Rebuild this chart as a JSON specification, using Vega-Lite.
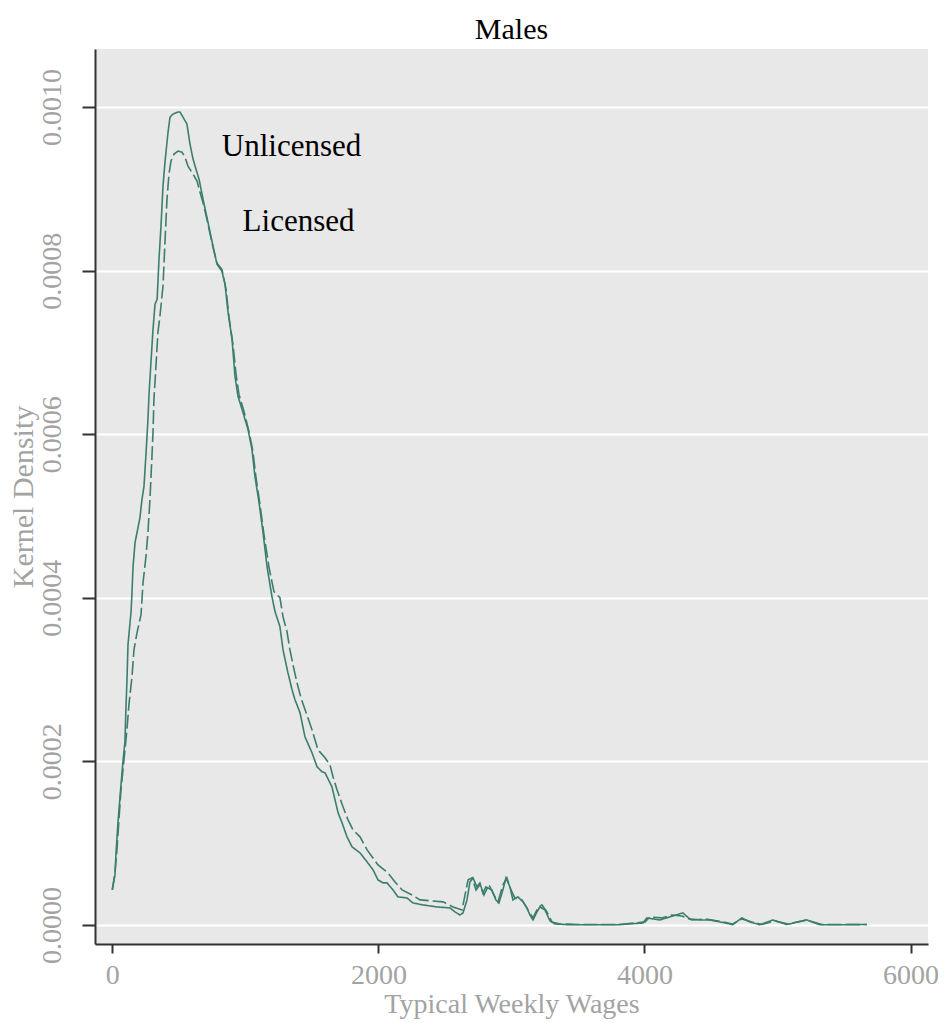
{
  "$schema": "https://vega.github.io/schema/vega-lite/v6.json",
  "width": 833,
  "height": 895,
  "autosize": {"type": "none"},
  "padding": {"left": 95, "top": 49, "right": 19, "bottom": 79},
  "background": "white",
  "title": {
    "text": "Males",
    "font": "Liberation Serif",
    "fontSize": 30,
    "fontWeight": "normal",
    "color": "#000000",
    "anchor": "middle",
    "offset": 4
  },
  "config": {
    "view": {"fill": "#e8e8e8", "stroke": null},
    "axis": {
      "labelFont": "Liberation Serif",
      "titleFont": "Liberation Serif",
      "labelColor": "#a3a3a3",
      "titleColor": "#a3a3a3",
      "labelFontSize": 28,
      "titleFontSize": 28,
      "titleFontWeight": "normal",
      "domainColor": "#333333",
      "domainWidth": 2,
      "tickColor": "#333333",
      "tickWidth": 2,
      "gridColor": "#ffffff",
      "gridWidth": 2
    }
  },
  "datasets": {
    "curves": [
      {"series": "Unlicensed", "wage": 0, "density": 0.0000428},
      {"series": "Unlicensed", "wage": 20, "density": 0.0000612},
      {"series": "Unlicensed", "wage": 28, "density": 0.0000881},
      {"series": "Unlicensed", "wage": 43, "density": 0.0001261},
      {"series": "Unlicensed", "wage": 58, "density": 0.0001567},
      {"series": "Unlicensed", "wage": 80, "density": 0.0001995},
      {"series": "Unlicensed", "wage": 95, "density": 0.000224},
      {"series": "Unlicensed", "wage": 103, "density": 0.0002668},
      {"series": "Unlicensed", "wage": 110, "density": 0.0002974},
      {"series": "Unlicensed", "wage": 118, "density": 0.0003427},
      {"series": "Unlicensed", "wage": 141, "density": 0.0003831},
      {"series": "Unlicensed", "wage": 148, "density": 0.0004064},
      {"series": "Unlicensed", "wage": 156, "density": 0.0004382},
      {"series": "Unlicensed", "wage": 171, "density": 0.0004676},
      {"series": "Unlicensed", "wage": 186, "density": 0.0004798},
      {"series": "Unlicensed", "wage": 208, "density": 0.0004982},
      {"series": "Unlicensed", "wage": 223, "density": 0.0005202},
      {"series": "Unlicensed", "wage": 238, "density": 0.0005361},
      {"series": "Unlicensed", "wage": 253, "density": 0.0005753},
      {"series": "Unlicensed", "wage": 268, "density": 0.0006181},
      {"series": "Unlicensed", "wage": 276, "density": 0.0006487},
      {"series": "Unlicensed", "wage": 291, "density": 0.0006891},
      {"series": "Unlicensed", "wage": 306, "density": 0.0007283},
      {"series": "Unlicensed", "wage": 321, "density": 0.0007589},
      {"series": "Unlicensed", "wage": 337, "density": 0.000765},
      {"series": "Unlicensed", "wage": 351, "density": 0.000814},
      {"series": "Unlicensed", "wage": 366, "density": 0.0008543},
      {"series": "Unlicensed", "wage": 381, "density": 0.0009033},
      {"series": "Unlicensed", "wage": 396, "density": 0.0009327},
      {"series": "Unlicensed", "wage": 419, "density": 0.0009694},
      {"series": "Unlicensed", "wage": 434, "density": 0.0009878},
      {"series": "Unlicensed", "wage": 456, "density": 0.0009914},
      {"series": "Unlicensed", "wage": 494, "density": 0.0009939},
      {"series": "Unlicensed", "wage": 509, "density": 0.0009939},
      {"series": "Unlicensed", "wage": 531, "density": 0.0009878},
      {"series": "Unlicensed", "wage": 561, "density": 0.0009792},
      {"series": "Unlicensed", "wage": 584, "density": 0.0009547},
      {"series": "Unlicensed", "wage": 607, "density": 0.0009364},
      {"series": "Unlicensed", "wage": 629, "density": 0.0009241},
      {"series": "Unlicensed", "wage": 652, "density": 0.0009119},
      {"series": "Unlicensed", "wage": 682, "density": 0.0008874},
      {"series": "Unlicensed", "wage": 719, "density": 0.0008592},
      {"series": "Unlicensed", "wage": 757, "density": 0.0008299},
      {"series": "Unlicensed", "wage": 787, "density": 0.0008078},
      {"series": "Unlicensed", "wage": 824, "density": 0.0007993},
      {"series": "Unlicensed", "wage": 847, "density": 0.0007834},
      {"series": "Unlicensed", "wage": 870, "density": 0.0007491},
      {"series": "Unlicensed", "wage": 900, "density": 0.000716},
      {"series": "Unlicensed", "wage": 922, "density": 0.0006708},
      {"series": "Unlicensed", "wage": 945, "density": 0.0006463},
      {"series": "Unlicensed", "wage": 982, "density": 0.0006267},
      {"series": "Unlicensed", "wage": 1020, "density": 0.0006059},
      {"series": "Unlicensed", "wage": 1050, "density": 0.0005814},
      {"series": "Unlicensed", "wage": 1072, "density": 0.0005484},
      {"series": "Unlicensed", "wage": 1103, "density": 0.0005165},
      {"series": "Unlicensed", "wage": 1133, "density": 0.0004798},
      {"series": "Unlicensed", "wage": 1163, "density": 0.0004382},
      {"series": "Unlicensed", "wage": 1200, "density": 0.0004015},
      {"series": "Unlicensed", "wage": 1223, "density": 0.0003831},
      {"series": "Unlicensed", "wage": 1260, "density": 0.0003648},
      {"series": "Unlicensed", "wage": 1283, "density": 0.0003366},
      {"series": "Unlicensed", "wage": 1320, "density": 0.0003084},
      {"series": "Unlicensed", "wage": 1351, "density": 0.0002876},
      {"series": "Unlicensed", "wage": 1373, "density": 0.0002754},
      {"series": "Unlicensed", "wage": 1411, "density": 0.0002595},
      {"series": "Unlicensed", "wage": 1448, "density": 0.0002301},
      {"series": "Unlicensed", "wage": 1501, "density": 0.0002105},
      {"series": "Unlicensed", "wage": 1539, "density": 0.0001934},
      {"series": "Unlicensed", "wage": 1576, "density": 0.0001873},
      {"series": "Unlicensed", "wage": 1599, "density": 0.000186},
      {"series": "Unlicensed", "wage": 1651, "density": 0.0001689},
      {"series": "Unlicensed", "wage": 1674, "density": 0.000153},
      {"series": "Unlicensed", "wage": 1697, "density": 0.0001371},
      {"series": "Unlicensed", "wage": 1727, "density": 0.0001248},
      {"series": "Unlicensed", "wage": 1764, "density": 0.0001077},
      {"series": "Unlicensed", "wage": 1802, "density": 0.0000955},
      {"series": "Unlicensed", "wage": 1862, "density": 0.0000881},
      {"series": "Unlicensed", "wage": 1915, "density": 0.0000771},
      {"series": "Unlicensed", "wage": 1960, "density": 0.0000673},
      {"series": "Unlicensed", "wage": 1997, "density": 0.0000551},
      {"series": "Unlicensed", "wage": 2035, "density": 0.0000514},
      {"series": "Unlicensed", "wage": 2065, "density": 0.0000514},
      {"series": "Unlicensed", "wage": 2110, "density": 0.0000428},
      {"series": "Unlicensed", "wage": 2147, "density": 0.0000343},
      {"series": "Unlicensed", "wage": 2215, "density": 0.000033},
      {"series": "Unlicensed", "wage": 2260, "density": 0.0000269},
      {"series": "Unlicensed", "wage": 2335, "density": 0.0000245},
      {"series": "Unlicensed", "wage": 2441, "density": 0.000022},
      {"series": "Unlicensed", "wage": 2538, "density": 0.0000208},
      {"series": "Unlicensed", "wage": 2576, "density": 0.0000159},
      {"series": "Unlicensed", "wage": 2613, "density": 0.0000122},
      {"series": "Unlicensed", "wage": 2636, "density": 0.0000147},
      {"series": "Unlicensed", "wage": 2666, "density": 0.0000306},
      {"series": "Unlicensed", "wage": 2688, "density": 0.0000526},
      {"series": "Unlicensed", "wage": 2711, "density": 0.0000575},
      {"series": "Unlicensed", "wage": 2741, "density": 0.0000465},
      {"series": "Unlicensed", "wage": 2763, "density": 0.0000514},
      {"series": "Unlicensed", "wage": 2786, "density": 0.0000392},
      {"series": "Unlicensed", "wage": 2808, "density": 0.0000465},
      {"series": "Unlicensed", "wage": 2853, "density": 0.0000428},
      {"series": "Unlicensed", "wage": 2883, "density": 0.0000306},
      {"series": "Unlicensed", "wage": 2906, "density": 0.0000269},
      {"series": "Unlicensed", "wage": 2936, "density": 0.0000428},
      {"series": "Unlicensed", "wage": 2959, "density": 0.0000575},
      {"series": "Unlicensed", "wage": 2989, "density": 0.0000465},
      {"series": "Unlicensed", "wage": 3011, "density": 0.0000306},
      {"series": "Unlicensed", "wage": 3049, "density": 0.0000343},
      {"series": "Unlicensed", "wage": 3087, "density": 0.0000282},
      {"series": "Unlicensed", "wage": 3117, "density": 0.0000208},
      {"series": "Unlicensed", "wage": 3139, "density": 0.0000122},
      {"series": "Unlicensed", "wage": 3162, "density": 0.0000061},
      {"series": "Unlicensed", "wage": 3192, "density": 0.0000159},
      {"series": "Unlicensed", "wage": 3214, "density": 0.000022},
      {"series": "Unlicensed", "wage": 3252, "density": 0.0000184},
      {"series": "Unlicensed", "wage": 3290, "density": 0.0000049},
      {"series": "Unlicensed", "wage": 3327, "density": 0.0000012},
      {"series": "Unlicensed", "wage": 3417, "density": 0.0000004},
      {"series": "Unlicensed", "wage": 3537, "density": 0.0000002},
      {"series": "Unlicensed", "wage": 3793, "density": 0.0000002},
      {"series": "Unlicensed", "wage": 3988, "density": 0.0000024},
      {"series": "Unlicensed", "wage": 4018, "density": 0.0000086},
      {"series": "Unlicensed", "wage": 4115, "density": 0.0000061},
      {"series": "Unlicensed", "wage": 4190, "density": 0.0000098},
      {"series": "Unlicensed", "wage": 4288, "density": 0.0000147},
      {"series": "Unlicensed", "wage": 4341, "density": 0.0000073},
      {"series": "Unlicensed", "wage": 4416, "density": 0.0000061},
      {"series": "Unlicensed", "wage": 4491, "density": 0.0000061},
      {"series": "Unlicensed", "wage": 4567, "density": 0.0000037},
      {"series": "Unlicensed", "wage": 4664, "density": 0.0000005},
      {"series": "Unlicensed", "wage": 4732, "density": 0.0000086},
      {"series": "Unlicensed", "wage": 4792, "density": 0.0000037},
      {"series": "Unlicensed", "wage": 4867, "density": 0.0000002},
      {"series": "Unlicensed", "wage": 4965, "density": 0.0000061},
      {"series": "Unlicensed", "wage": 5070, "density": 0.0000005},
      {"series": "Unlicensed", "wage": 5220, "density": 0.0000061},
      {"series": "Unlicensed", "wage": 5318, "density": 0.0000002},
      {"series": "Unlicensed", "wage": 5415, "density": 0.0000002},
      {"series": "Unlicensed", "wage": 5671, "density": 0.0000005},

      {"series": "Licensed", "wage": 0, "density": 0.0000428},
      {"series": "Licensed", "wage": 20, "density": 0.0000637},
      {"series": "Licensed", "wage": 35, "density": 0.0000918},
      {"series": "Licensed", "wage": 50, "density": 0.0001285},
      {"series": "Licensed", "wage": 65, "density": 0.0001652},
      {"series": "Licensed", "wage": 88, "density": 0.000202},
      {"series": "Licensed", "wage": 110, "density": 0.0002387},
      {"series": "Licensed", "wage": 125, "density": 0.0002693},
      {"series": "Licensed", "wage": 148, "density": 0.0003035},
      {"series": "Licensed", "wage": 163, "density": 0.0003366},
      {"series": "Licensed", "wage": 186, "density": 0.0003574},
      {"series": "Licensed", "wage": 216, "density": 0.0003794},
      {"series": "Licensed", "wage": 231, "density": 0.0004186},
      {"series": "Licensed", "wage": 253, "density": 0.0004504},
      {"series": "Licensed", "wage": 268, "density": 0.0004798},
      {"series": "Licensed", "wage": 283, "density": 0.0005202},
      {"series": "Licensed", "wage": 298, "density": 0.0005728},
      {"series": "Licensed", "wage": 306, "density": 0.0006022},
      {"series": "Licensed", "wage": 313, "density": 0.0006426},
      {"series": "Licensed", "wage": 328, "density": 0.000683},
      {"series": "Licensed", "wage": 343, "density": 0.0007246},
      {"series": "Licensed", "wage": 358, "density": 0.0007442},
      {"series": "Licensed", "wage": 381, "density": 0.0007809},
      {"series": "Licensed", "wage": 396, "density": 0.0008348},
      {"series": "Licensed", "wage": 411, "density": 0.0008874},
      {"series": "Licensed", "wage": 426, "density": 0.000918},
      {"series": "Licensed", "wage": 441, "density": 0.0009339},
      {"series": "Licensed", "wage": 464, "density": 0.0009425},
      {"series": "Licensed", "wage": 494, "density": 0.0009462},
      {"series": "Licensed", "wage": 524, "density": 0.0009449},
      {"series": "Licensed", "wage": 546, "density": 0.0009388},
      {"series": "Licensed", "wage": 569, "density": 0.0009278},
      {"series": "Licensed", "wage": 607, "density": 0.000918},
      {"series": "Licensed", "wage": 637, "density": 0.0009094},
      {"series": "Licensed", "wage": 659, "density": 0.000896},
      {"series": "Licensed", "wage": 689, "density": 0.0008788},
      {"series": "Licensed", "wage": 719, "density": 0.0008568},
      {"series": "Licensed", "wage": 757, "density": 0.0008286},
      {"series": "Licensed", "wage": 787, "density": 0.0008091},
      {"series": "Licensed", "wage": 824, "density": 0.0008017},
      {"series": "Licensed", "wage": 855, "density": 0.0007772},
      {"series": "Licensed", "wage": 877, "density": 0.000743},
      {"series": "Licensed", "wage": 907, "density": 0.0007099},
      {"series": "Licensed", "wage": 930, "density": 0.0006732},
      {"series": "Licensed", "wage": 952, "density": 0.0006487},
      {"series": "Licensed", "wage": 990, "density": 0.0006279},
      {"series": "Licensed", "wage": 1027, "density": 0.0006034},
      {"series": "Licensed", "wage": 1057, "density": 0.0005789},
      {"series": "Licensed", "wage": 1080, "density": 0.0005471},
      {"series": "Licensed", "wage": 1110, "density": 0.0005141},
      {"series": "Licensed", "wage": 1140, "density": 0.0004774},
      {"series": "Licensed", "wage": 1178, "density": 0.000437},
      {"series": "Licensed", "wage": 1215, "density": 0.0004076},
      {"series": "Licensed", "wage": 1260, "density": 0.0004002},
      {"series": "Licensed", "wage": 1283, "density": 0.000377},
      {"series": "Licensed", "wage": 1313, "density": 0.0003586},
      {"series": "Licensed", "wage": 1335, "density": 0.0003366},
      {"series": "Licensed", "wage": 1358, "density": 0.0003182},
      {"series": "Licensed", "wage": 1388, "density": 0.0002962},
      {"series": "Licensed", "wage": 1418, "density": 0.0002778},
      {"series": "Licensed", "wage": 1470, "density": 0.0002534},
      {"series": "Licensed", "wage": 1501, "density": 0.0002387},
      {"series": "Licensed", "wage": 1546, "density": 0.0002142},
      {"series": "Licensed", "wage": 1599, "density": 0.0002044},
      {"series": "Licensed", "wage": 1636, "density": 0.0001958},
      {"series": "Licensed", "wage": 1659, "density": 0.0001812},
      {"series": "Licensed", "wage": 1689, "density": 0.0001652},
      {"series": "Licensed", "wage": 1734, "density": 0.0001444},
      {"series": "Licensed", "wage": 1772, "density": 0.0001285},
      {"series": "Licensed", "wage": 1809, "density": 0.0001163},
      {"series": "Licensed", "wage": 1862, "density": 0.0001077},
      {"series": "Licensed", "wage": 1915, "density": 0.0000918},
      {"series": "Licensed", "wage": 1997, "density": 0.0000734},
      {"series": "Licensed", "wage": 2072, "density": 0.0000636},
      {"series": "Licensed", "wage": 2125, "density": 0.0000526},
      {"series": "Licensed", "wage": 2178, "density": 0.0000428},
      {"series": "Licensed", "wage": 2253, "density": 0.0000367},
      {"series": "Licensed", "wage": 2313, "density": 0.0000306},
      {"series": "Licensed", "wage": 2403, "density": 0.0000294},
      {"series": "Licensed", "wage": 2486, "density": 0.0000282},
      {"series": "Licensed", "wage": 2561, "density": 0.000022},
      {"series": "Licensed", "wage": 2629, "density": 0.0000184},
      {"series": "Licensed", "wage": 2674, "density": 0.0000551},
      {"series": "Licensed", "wage": 2704, "density": 0.0000575},
      {"series": "Licensed", "wage": 2734, "density": 0.0000428},
      {"series": "Licensed", "wage": 2763, "density": 0.000049},
      {"series": "Licensed", "wage": 2793, "density": 0.0000367},
      {"series": "Licensed", "wage": 2831, "density": 0.000049},
      {"series": "Licensed", "wage": 2868, "density": 0.0000367},
      {"series": "Licensed", "wage": 2899, "density": 0.0000282},
      {"series": "Licensed", "wage": 2936, "density": 0.000049},
      {"series": "Licensed", "wage": 2966, "density": 0.0000575},
      {"series": "Licensed", "wage": 2996, "density": 0.0000428},
      {"series": "Licensed", "wage": 3026, "density": 0.000033},
      {"series": "Licensed", "wage": 3079, "density": 0.0000306},
      {"series": "Licensed", "wage": 3124, "density": 0.0000184},
      {"series": "Licensed", "wage": 3162, "density": 0.0000086},
      {"series": "Licensed", "wage": 3199, "density": 0.0000208},
      {"series": "Licensed", "wage": 3229, "density": 0.0000245},
      {"series": "Licensed", "wage": 3267, "density": 0.0000159},
      {"series": "Licensed", "wage": 3305, "density": 0.0000037},
      {"series": "Licensed", "wage": 3365, "density": 0.0000012},
      {"series": "Licensed", "wage": 3515, "density": 0.0000005},
      {"series": "Licensed", "wage": 3816, "density": 0.0000005},
      {"series": "Licensed", "wage": 4004, "density": 0.0000037},
      {"series": "Licensed", "wage": 4041, "density": 0.0000098},
      {"series": "Licensed", "wage": 4131, "density": 0.0000086},
      {"series": "Licensed", "wage": 4206, "density": 0.0000122},
      {"series": "Licensed", "wage": 4281, "density": 0.000011},
      {"series": "Licensed", "wage": 4356, "density": 0.0000061},
      {"series": "Licensed", "wage": 4454, "density": 0.0000073},
      {"series": "Licensed", "wage": 4551, "density": 0.0000049},
      {"series": "Licensed", "wage": 4664, "density": 0.0000012},
      {"series": "Licensed", "wage": 4732, "density": 0.0000073},
      {"series": "Licensed", "wage": 4807, "density": 0.0000037},
      {"series": "Licensed", "wage": 4882, "density": 0.0000005},
      {"series": "Licensed", "wage": 4980, "density": 0.0000049},
      {"series": "Licensed", "wage": 5078, "density": 0.0000012},
      {"series": "Licensed", "wage": 5220, "density": 0.0000061},
      {"series": "Licensed", "wage": 5333, "density": 0.0000005},
      {"series": "Licensed", "wage": 5430, "density": 0.0000005},
      {"series": "Licensed", "wage": 5671, "density": 0.0000005}
    ],
    "labels": [
      {"label": "Unlicensed", "wage": 1347, "density": 0.00094},
      {"label": "Licensed", "wage": 1400, "density": 0.000848}
    ]
  },
  "layer": [
    {
      "data": {"name": "curves"},
      "mark": {"type": "line", "color": "#3b7e6d", "strokeWidth": 1.6, "interpolate": "linear"},
      "encoding": {
        "x": {
          "field": "wage",
          "type": "quantitative",
          "scale": {"domain": [-130, 6131], "nice": false, "zero": false},
          "axis": {
            "title": "Typical Weekly Wages",
            "values": [0, 2000, 4000, 6000],
            "format": "d",
            "grid": false,
            "tickSize": 9,
            "labelPadding": 8,
            "titlePadding": 1
          }
        },
        "y": {
          "field": "density",
          "type": "quantitative",
          "scale": {"domain": [-0.0000233, 0.001071], "nice": false, "zero": false},
          "axis": {
            "title": "Kernel Density",
            "titleFontSize": 30,
            "values": [0, 0.0002, 0.0004, 0.0006, 0.0008, 0.001],
            "format": ".4f",
            "grid": true,
            "tickSize": 13,
            "labelAngle": 270,
            "labelAlign": "center",
            "labelBaseline": "bottom",
            "labelPadding": 16,
            "titlePadding": 0
          }
        },
        "strokeDash": {
          "field": "series",
          "type": "nominal",
          "scale": {"domain": ["Unlicensed", "Licensed"], "range": [[1, 0], [14, 4]]},
          "legend": null
        },
        "detail": {"field": "series", "type": "nominal"}
      }
    },
    {
      "data": {"name": "labels"},
      "mark": {
        "type": "text",
        "font": "Liberation Serif",
        "fontSize": 31,
        "color": "#000000",
        "align": "center",
        "baseline": "alphabetic"
      },
      "encoding": {
        "x": {"field": "wage", "type": "quantitative"},
        "y": {"field": "density", "type": "quantitative"},
        "text": {"field": "label", "type": "nominal"}
      }
    }
  ]
}
